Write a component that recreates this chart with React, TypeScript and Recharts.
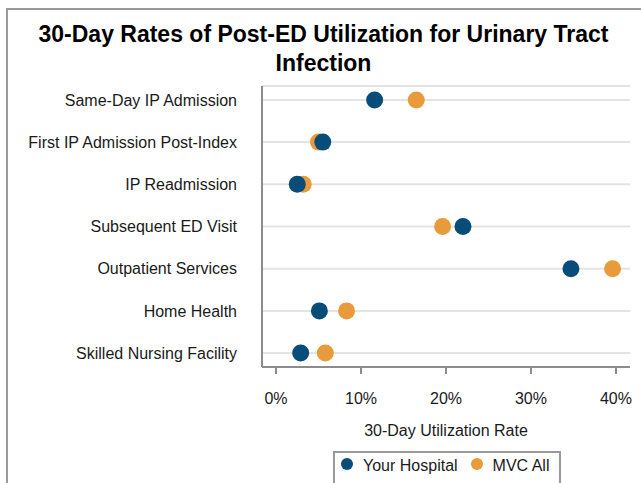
import React from "react";
import {
  ScatterChart,
  Scatter,
  XAxis,
  YAxis,
  CartesianGrid,
  Legend,
} from "recharts";

const categories = [
  "Same-Day IP Admission",
  "First IP Admission Post-Index",
  "IP Readmission",
  "Subsequent ED Visit",
  "Outpatient Services",
  "Home Health",
  "Skilled Nursing Facility",
];

const yourHospital = [11.6, 5.5, 2.5, 22.0, 34.7, 5.1, 2.9];
const mvcAll = [16.5, 5.0, 3.2, 19.6, 39.6, 8.3, 5.8];

const xTicks = [0, 10, 20, 30, 40];
const xDomain = [-1.65, 41.65];
const yTicks = categories.map((_, i) => i);
const yDomain = [-0.33, categories.length - 1 + 0.33];

const seriesNames = ["Your Hospital", "MVC All"];
const BLUE = "#084d79";
const ORANGE = "#e99a3b";
const FONT = "'Liberation Sans', Arial, sans-serif";

const toPoints = (vals: number[]) => vals.map((v, i) => ({ x: v, y: i }));
const hospitalData = toPoints(yourHospital);
const mvcData = toPoints(mvcAll);

const dot = (color: string) => (props: any) => (
  <circle cx={props.cx} cy={props.cy} r={8.5} fill={color} />
);

const LegendBox = () => (
  <div
    style={{
      boxSizing: "border-box",
      width: 228,
      height: 40,
      border: "2px solid #9a9a9a",
      background: "#fff",
      display: "flex",
      alignItems: "flex-start",
      paddingLeft: 6,
      paddingTop: 4,
      fontFamily: FONT,
      fontSize: 16,
      color: "#1a1a1a",
      lineHeight: "18px",
    }}
  >
    {[BLUE, ORANGE].map((c, i) => (
      <div key={i} style={{ display: "flex", alignItems: "center", marginRight: i === 0 ? 13 : 0 }}>
        <span
          style={{
            display: "inline-block",
            width: 12,
            height: 12,
            borderRadius: 6,
            background: c,
            marginRight: 10,
            marginTop: -4,
          }}
        />
        <span>{seriesNames[i]}</span>
      </div>
    ))}
  </div>
);

export default function App() {
  return (
    <div
      style={{
        position: "absolute",
        left: 0,
        top: 0,
        width: 641,
        height: 483,
        overflow: "hidden",
        background: "#fff",
        fontFamily: FONT,
      }}
    >
      <div
        style={{
          position: "absolute",
          left: 6,
          top: 8,
          width: 700,
          height: 600,
          border: "2px solid #9a9a9a",
          boxSizing: "border-box",
        }}
      />
      <div
        style={{
          position: "absolute",
          left: 8,
          width: 631,
          top: 20,
          textAlign: "center",
          fontWeight: "bold",
          fontSize: 23,
          lineHeight: "29px",
          color: "#000",
          zIndex: 2,
        }}
      >
        30-Day Rates of Post-ED Utilization for Urinary Tract
        <br />
        Infection
      </div>
      <div style={{ position: "absolute", left: 0, top: 0, zIndex: 1 }}>
        <ScatterChart
          width={641}
          height={483}
          margin={{ top: 86, right: 11, left: 0, bottom: 26 }}
        >
          <CartesianGrid
            vertical={false}
            stroke="#e3e3e3"
            strokeWidth={2}
          />
          <XAxis
            type="number"
            dataKey="x"
            domain={xDomain}
            ticks={xTicks}
            allowDataOverflow
            tickFormatter={(v: number) => `${v}%`}
            height={50}
            tickSize={7}
            tickMargin={19}
            tickLine={{ stroke: "#8c8c8c", strokeWidth: 2 }}
            axisLine={{ stroke: "#8c8c8c", strokeWidth: 2 }}
            tick={{ fill: "#1a1a1a", fontSize: 16, fontFamily: FONT }}
            label={{
              value: "30-Day Utilization Rate",
              position: "bottom",
              offset: 8,
              fill: "#1a1a1a",
              fontSize: 16,
              fontFamily: FONT,
            }}
          />
          <XAxis
            xAxisId="top"
            orientation="top"
            type="number"
            domain={xDomain}
            allowDataOverflow
            height={0}
            tick={false}
            tickLine={false}
            axisLine={{ stroke: "#a0a0a0", strokeWidth: 1.5 }}
          />
          <YAxis
            type="number"
            dataKey="y"
            domain={yDomain}
            ticks={yTicks}
            reversed
            allowDataOverflow
            interval={0}
            width={262}
            tickSize={0}
            tickMargin={25}
            tickLine={false}
            tickFormatter={(v: number) => categories[v] ?? ""}
            axisLine={{ stroke: "#8c8c8c", strokeWidth: 2 }}
            tick={{ fill: "#1a1a1a", fontSize: 16, fontFamily: FONT }}
          />
          <YAxis
            yAxisId="right"
            orientation="right"
            type="number"
            domain={yDomain}
            allowDataOverflow
            width={0}
            tick={false}
            tickLine={false}
            axisLine={{ stroke: "#a0a0a0", strokeWidth: 1.5 }}
          />
          <Legend
            content={<LegendBox />}
            wrapperStyle={{
              left: 333,
              top: 451,
              bottom: "auto",
              width: 228,
              height: 40,
            }}
          />
          <Scatter
            name={seriesNames[1]}
            data={mvcData}
            fill={ORANGE}
            shape={dot(ORANGE)}
            isAnimationActive={false}
          />
          <Scatter
            name={seriesNames[0]}
            data={hospitalData}
            fill={BLUE}
            shape={dot(BLUE)}
            isAnimationActive={false}
          />
        </ScatterChart>
      </div>
    </div>
  );
}
